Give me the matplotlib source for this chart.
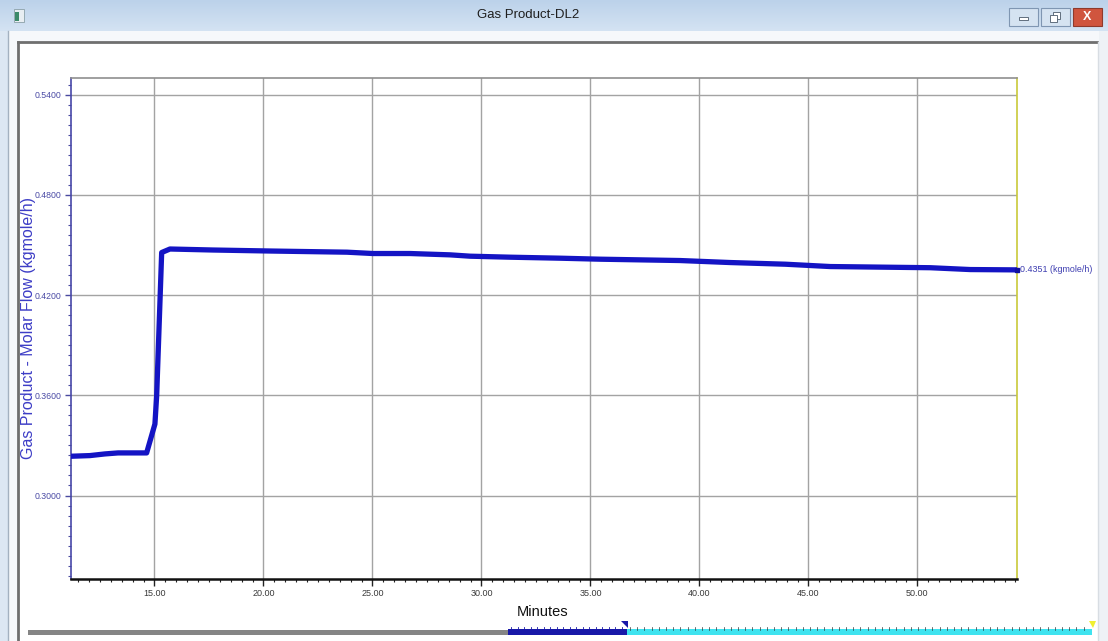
import numpy as np
import matplotlib
matplotlib.use("Agg")
import matplotlib.pyplot as plt
from matplotlib.ticker import MultipleLocator, FormatStrFormatter
from matplotlib.patches import Rectangle, Polygon

# Trend data: gas product molar flow vs. time
minutes = [11.17, 12.04, 12.73, 13.33, 14.64, 15.02, 15.10, 15.25, 15.33, 15.71,
           17.68, 20.30, 23.83, 25.02, 26.72, 28.56, 29.48, 31.31, 33.61, 35.44,
           39.11, 41.41, 43.94, 46.00, 50.59, 52.42, 54.57]
flow = [0.3235, 0.3239, 0.3249, 0.3255, 0.3255, 0.3428, 0.3597, 0.4156, 0.4455, 0.4476,
        0.4470, 0.4464, 0.4457, 0.4449, 0.4449, 0.4441, 0.4433, 0.4427, 0.4421, 0.4415,
        0.4407, 0.4395, 0.4385, 0.4371, 0.4364, 0.4353, 0.4351]
x_ticks = [15, 20, 25, 30, 35, 40, 45, 50]
y_ticks = [0.30, 0.36, 0.42, 0.48, 0.54]
window_title = "Gas Product-DL2"
y_title = "Gas Product - Molar Flow (kgmole/h)"
x_title = "Minutes"
unit = "(kgmole/h)"

FONT = ["Liberation Sans", "DejaVu Sans"]

W, H = 1108, 641
fig = plt.figure(figsize=(W / 100, H / 100), dpi=100)
fig.patch.set_facecolor("white")

# ---- window chrome drawn in pixel coordinates ----
bg = fig.add_axes([0, 0, 1, 1], zorder=-5)
bg.set_xlim(0, W)
bg.set_ylim(H, 0)
bg.axis("off")

# outer frame
bg.add_patch(Rectangle((0, 0), W, H, facecolor="#dce7f3", edgecolor="none", zorder=-2))
# title bar gradient
grad = np.linspace(0, 1, 64)[:, None]
cmap = matplotlib.colors.LinearSegmentedColormap.from_list("tb", ["#bcd2ea", "#d4e3f3"])
bg.imshow(grad, extent=(0, W, 31, 0), cmap=cmap, aspect="auto", zorder=0)
bg.set_xlim(0, W)
bg.set_ylim(H, 0)
# client area
bg.add_patch(Rectangle((8, 31), W - 16, H - 31, facecolor="#f6f8fb", edgecolor="none", zorder=1))
bg.plot([7.5, 7.5], [31, H], color="#a3b1c0", lw=1, zorder=2)
bg.add_patch(Rectangle((1099, 31), 9, H - 31, facecolor="#eef2f6", edgecolor="none", zorder=1))
# inner chart panel
bg.add_patch(Rectangle((18, 42), 1080, H - 42, facecolor="white", edgecolor="none", zorder=2))
bg.plot([18, 1097], [42, 42], color="#6f6f6f", lw=2, zorder=3)
bg.plot([18, 18], [42, H], color="#6f6f6f", lw=2, zorder=3)
bg.plot([1098, 1098], [42, H], color="#d8dde3", lw=1, zorder=3)

# app icon
bg.add_patch(Rectangle((14, 9), 10, 13, facecolor="#e8eef2", edgecolor="#8aa0a8", lw=0.6, zorder=3))
bg.add_patch(Rectangle((15, 12), 4, 9, facecolor="#3c8a6a", edgecolor="none", zorder=4))

# caption buttons
for x0, x1, fc, ec in [(1009, 1038, "#d5e3f1", "#7f96b2"),
                       (1041, 1070, "#d5e3f1", "#7f96b2"),
                       (1073, 1102, "#d0553e", "#8f3a2c")]:
    bg.add_patch(Rectangle((x0, 8), x1 - x0, 18, facecolor=fc, edgecolor=ec, lw=0.8, zorder=3))
bg.add_patch(Rectangle((1019, 17), 9, 3, facecolor="white", edgecolor="#4a5a6a", lw=0.6, zorder=4))
bg.add_patch(Rectangle((1053, 12), 7, 7, facecolor="white", edgecolor="#4a5a6a", lw=0.6, zorder=4))
bg.add_patch(Rectangle((1050, 15), 7, 7, facecolor="white", edgecolor="#4a5a6a", lw=0.6, zorder=5))
bg.text(1087.5, 17, "X", ha="center", va="center", color="white", fontsize=9,
        fontweight="bold", family=FONT, zorder=5)

bg.text(528, 15, window_title, ha="center", va="center", fontsize=9.5,
        color="#1e1e1e", family=FONT, zorder=5)

# time-range scroll bar under the chart
bg.add_patch(Rectangle((28, 630), 480, 5, facecolor="#858585", edgecolor="none", zorder=3))
bg.add_patch(Rectangle((508, 629), 119, 6, facecolor="#1818a8", edgecolor="none", zorder=3))
bg.add_patch(Rectangle((627, 629), 465, 6, facecolor="#3fe3ef", edgecolor="none", zorder=3))
for xt in np.arange(511, 627, 6.5):
    bg.plot([xt, xt], [627, 630], color="#1818a8", lw=0.6, zorder=4)
for xt in np.arange(630, 1090, 7.2):
    bg.plot([xt, xt], [627, 629.5], color="#333333", lw=0.5, zorder=4)
bg.add_patch(Polygon([[621, 621], [628, 621], [628, 628]], closed=True,
                     facecolor="#1818a8", edgecolor="none", zorder=5))
bg.add_patch(Polygon([[1089, 621], [1096, 621], [1093, 628]], closed=True,
                     facecolor="#f0f030", edgecolor="none", zorder=5))

bg.text(543, 612, x_title, ha="center", va="center", fontsize=10.5,
        color="#111111", family=FONT, zorder=5)

# y-axis title
bg.text(29, 328, y_title, ha="center", va="center", rotation=90, fontsize=11.5,
        color="#3d3dc6", family=FONT, zorder=5)

# ---- trend axes ----
ax = fig.add_axes([71 / W, (H - 579) / H, (1017 - 71) / W, (579 - 78) / H])
ax.set_facecolor("white")
ax.plot(minutes, flow, color="#1414c4", lw=3.8, solid_joinstyle="round",
        solid_capstyle="round", zorder=4)
ax.plot(minutes[-1], flow[-1], marker="s", ms=3.5, color="#1010a0", clip_on=False, zorder=5)

ax.set_xlim(11.17, 54.57)
ax.set_ylim(0.25, 0.55)
ax.set_xticks(x_ticks)
ax.set_yticks(y_ticks)
ax.xaxis.set_minor_locator(MultipleLocator(0.5))
ax.yaxis.set_minor_locator(MultipleLocator(0.006))
ax.xaxis.set_major_formatter(FormatStrFormatter("%.2f"))
ax.yaxis.set_major_formatter(FormatStrFormatter("%.4f"))
ax.grid(True, which="major", color="#a3a3a3", lw=1)
ax.set_axisbelow(True)

ax.tick_params(axis="x", which="major", length=5, width=1, color="#222222", pad=2,
               labelsize=6.5, labelcolor="#3a3a3a")
ax.tick_params(axis="x", which="minor", length=2.5, width=0.8, color="#222222")
ax.tick_params(axis="y", which="major", length=4, width=1, color="#4a4aa0", pad=3,
               labelsize=6.3, labelcolor="#4b4ba5")
ax.tick_params(axis="y", which="minor", length=2, width=0.8, color="#4a4aa0")
for lab in ax.get_xticklabels() + ax.get_yticklabels():
    lab.set_family(FONT)

ax.spines["bottom"].set_color("#111111")
ax.spines["bottom"].set_linewidth(1.8)
ax.spines["left"].set_color("#4848a8")
ax.spines["left"].set_linewidth(1.2)
ax.spines["top"].set_color("#8f8f8f")
ax.spines["top"].set_linewidth(1.2)
ax.spines["right"].set_color("#c9c93a")
ax.spines["right"].set_linewidth(1.2)

ax.annotate(f"{flow[-1]:.4f} {unit}", xy=(minutes[-1], flow[-1]), xytext=(2, 0),
            textcoords="offset points", ha="left", va="center", fontsize=6.4,
            color="#3c3cb0", family=FONT, annotation_clip=False)

fig.savefig("out.png", dpi=100)
